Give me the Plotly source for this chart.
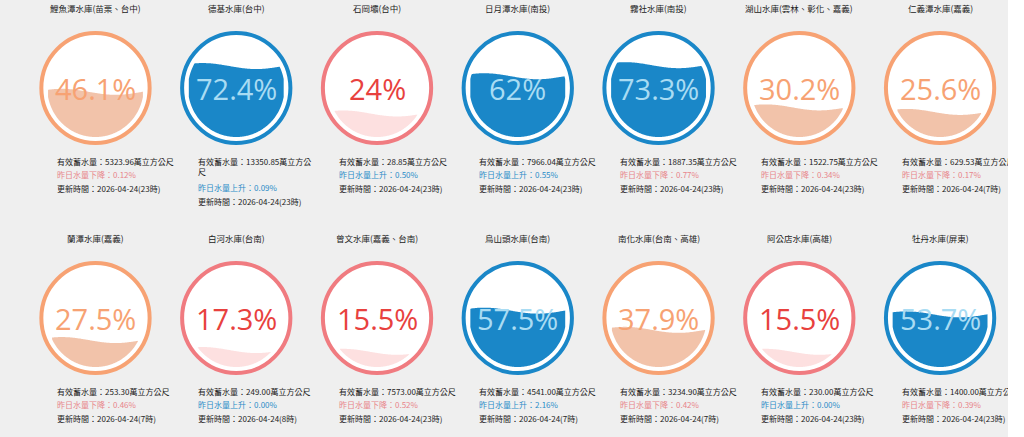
import numpy as np
import plotly.graph_objects as go

names = ["鯉魚潭水庫(苗栗、台中)", "德基水庫(台中)", "石岡壩(台中)", "日月潭水庫(南投)",
         "霧社水庫(南投)", "湖山水庫(雲林、彰化、嘉義)", "仁義潭水庫(嘉義)",
         "蘭潭水庫(嘉義)", "白河水庫(台南)", "曾文水庫(嘉義、台南)", "烏山頭水庫(台南)",
         "南化水庫(台南、高雄)", "阿公店水庫(高雄)", "牡丹水庫(屏東)"]
pct_labels = ["46.1%", "72.4%", "24%", "62%", "73.3%", "30.2%", "25.6%",
              "27.5%", "17.3%", "15.5%", "57.5%", "37.9%", "15.5%", "53.7%"]
storage = ["5323.96", "13350.85", "28.85", "7966.04", "1887.35", "1522.75", "629.53",
           "253.30", "249.00", "7573.00", "4541.00", "3234.90", "230.00", "1400.00"]
change_dir = ["下降", "上升", "上升", "上升", "下降", "下降", "下降",
              "下降", "上升", "下降", "上升", "下降", "上升", "下降"]
change_pct = ["0.12%", "0.09%", "0.50%", "0.55%", "0.77%", "0.34%", "0.17%",
              "0.46%", "0.00%", "0.52%", "2.16%", "0.42%", "0.00%", "0.39%"]
updated = ["23", "23", "23", "23", "23", "23", "7",
           "7", "8", "23", "7", "7", "23", "23"]

FONT = "Noto Sans CJK TC"
R_OUT, R_IN = 57, 49

fig = go.Figure()
shapes = []
annotations = []

for i, name in enumerate(names):
    row, col = divmod(i, 7)
    cx = 97 + 143 * col
    cy = 88 + 230 * row
    p = float(pct_labels[i].rstrip("%"))
    if p >= 50:
        ring, fill, txt, txt_in = "#1a87c8", "#1a87c8", "#1a87c8", "#a9dcf3"
    elif p >= 25:
        ring, fill, txt, txt_in = "#f7a273", "#f2c3aa", "#f7a273", "#f7a273"
    else:
        ring, fill, txt, txt_in = "#f07b80", "#fde0e0", "#e8413e", "#e8413e"

    shapes.append(dict(type="circle", xref="x", yref="y",
                       x0=cx - R_OUT + 2, x1=cx + R_OUT - 2, y0=cy - R_OUT + 2, y1=cy + R_OUT - 2,
                       line=dict(color=ring, width=4), fillcolor="white", layer="below"))

    # water with wave
    level = cy + R_IN - 2 * R_IN * p / 100
    xs = np.linspace(-R_IN, R_IN, 121)
    half = np.sqrt(np.maximum(R_IN ** 2 - xs ** 2, 0))
    wave = level + 3 * np.sin(xs / R_IN * np.pi * 0.9 + 0.4)
    top = np.maximum(wave, cy - half)
    bottom = cy + half
    mask = top < bottom
    xx = cx + xs[mask]
    px = np.concatenate([xx, xx[::-1]])
    py = np.concatenate([top[mask], bottom[mask][::-1]])
    fig.add_trace(go.Scatter(x=px, y=py, fill="toself", fillcolor=fill, mode="none",
                             hoverinfo="skip", showlegend=False))

    annotations.append(dict(x=cx, y=cy, text=pct_labels[i], showarrow=False,
                            font=dict(size=29, color=txt_in if level < cy else txt, family="Open Sans")))
    annotations.append(dict(x=cx, y=8 + 230 * row, text=name, showarrow=False,
                            font=dict(size=8.5, color="#222", family=FONT)))

    ty = 154 + 230 * row
    s = "有效蓄水量：" + storage[i] + "萬立方公尺"
    if i == 1:
        s = "有效蓄水量：" + storage[i] + "萬立方公<br>尺"
    annotations.append(dict(x=cx - 41, y=ty, text=s, showarrow=False, xanchor="left", yanchor="top",
                            align="left", font=dict(size=8, color="#222", family=FONT)))
    off = 13 if i == 1 else 0
    ccol = "#e8848a" if change_dir[i] == "下降" else "#2a8cc8"
    annotations.append(dict(x=cx - 41, y=ty + 13 + off, text="昨日水量" + change_dir[i] + "：" + change_pct[i],
                            showarrow=False, xanchor="left", yanchor="top",
                            font=dict(size=8, color=ccol, family=FONT)))
    annotations.append(dict(x=cx - 41, y=ty + 27 + off, text="更新時間：2026-04-24(" + updated[i] + "時)",
                            showarrow=False, xanchor="left", yanchor="top",
                            font=dict(size=8, color="#222", family=FONT)))

fig.update_layout(autosize=True, margin=dict(l=0, r=0, t=0, b=0),
                  paper_bgcolor="#efefef", plot_bgcolor="#efefef",
                  shapes=shapes, annotations=annotations,
                  xaxis=dict(range=[0, 1024], visible=False, fixedrange=True),
                  yaxis=dict(range=[437, 0], visible=False, fixedrange=True))
fig.write_html("out.html", config={"displayModeBar": False},
               default_width="100%", default_height="100vh",
               post_script="document.body.style.margin='0';document.body.style.overflow='hidden';")
